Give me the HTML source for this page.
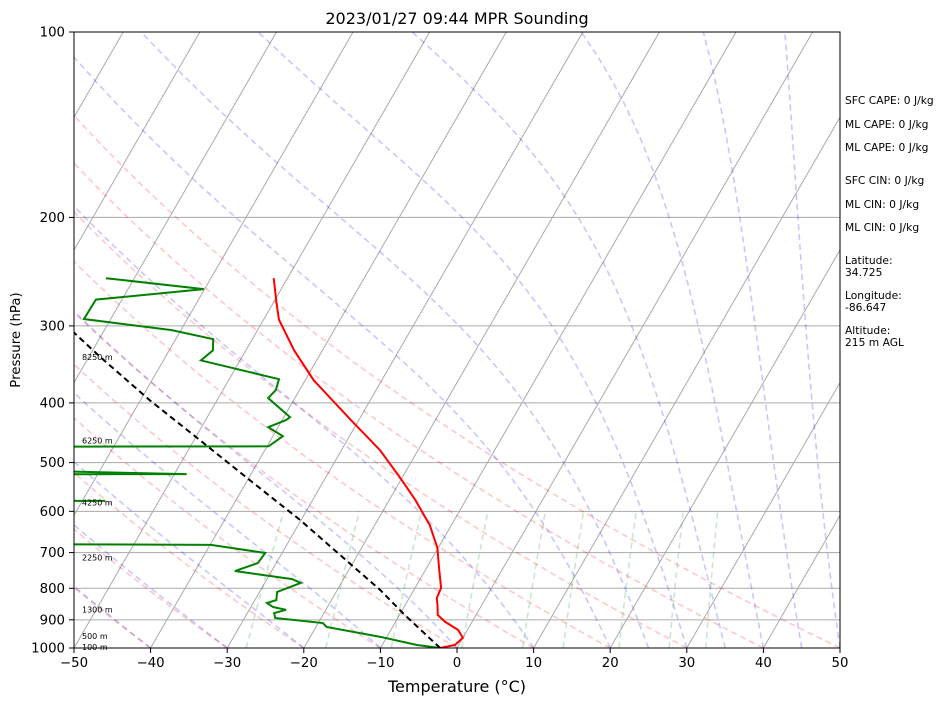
<!DOCTYPE html>
<html><head><meta charset="utf-8"><style>
body{margin:0;background:#fff;}
svg{display:block;font-family:"DejaVu Sans","Liberation Sans",sans-serif;}
</style></head><body>
<svg id="chart" width="946" height="705" viewBox="0 0 946 705" xmlns="http://www.w3.org/2000/svg">
<defs><clipPath id="plotclip"><rect x="74" y="32" width="766" height="616"/></clipPath></defs>
<text x="457" y="24" font-size="16" text-anchor="middle">2023/01/27 09:44 MPR Sounding</text>
<g id="bg" clip-path="url(#plotclip)"></g>
<g id="series" clip-path="url(#plotclip)"></g>
<rect x="74" y="32" width="766" height="616" fill="none" stroke="#000" stroke-width="1"/>
<g id="axes"></g>
<text x="457" y="692" font-size="16" text-anchor="middle">Temperature (°C)</text>
<text transform="translate(20,340) rotate(-90)" font-size="13.3" text-anchor="middle">Pressure (hPa)</text>
<g font-size="10.7">
<text x="845" y="104">SFC CAPE: 0 J/kg</text>
<text x="845" y="128">ML CAPE: 0 J/kg</text>
<text x="845" y="151">ML CAPE: 0 J/kg</text>
<text x="845" y="184">SFC CIN: 0 J/kg</text>
<text x="845" y="208">ML CIN: 0 J/kg</text>
<text x="845" y="231">ML CIN: 0 J/kg</text>
<text x="845" y="264">Latitude:</text>
<text x="845" y="276">34.725</text>
<text x="845" y="299">Longitude:</text>
<text x="845" y="311">-86.647</text>
<text x="845" y="334">Altitude:</text>
<text x="845" y="346">215 m AGL</text>
</g>
</svg>
<script>
// ---- data ----
const tempP = [1000,988.9,963,935,907,884,851,830,799,747,688,632,575,524,477,426,367.5,328.7,293,275,251];
const tempT = [-2.2,-0.5,0.0,-1.2,-3.5,-5.0,-5.8,-6.4,-6.6,-8.2,-10.1,-12.8,-16.6,-20.7,-25,-31.1,-38.9,-43.7,-48,-49.6,-51.8];
const dewP = [1000,988.9,959.7,924.5,911,894,877.5,867,858,845,836,811,784,773,750,728,701,680,675,578,577,576,523,522,506,472,470.5,453,438,426.6,421.9,392.8,381.3,366.1,341.3,328.7,315.3,304.8,292.4,271.9,261.5,251];
const dewT = [-2.2,-5.45,-10.75,-18.6,-19.4,-26.0,-26.5,-25.2,-27.1,-28.2,-27.2,-27.7,-25.3,-26.7,-34.8,-32.4,-32.2,-39.9,-110,-100,-57.0,-100,-100,-48.4,-100,-100,-39.8,-38.7,-41.3,-39.5,-39.2,-43.5,-43.1,-43.5,-55.1,-54.3,-55.1,-61.2,-73.5,-73.4,-60.1,-73.7];
const parcelP = [1000,884,805,706,620,534,460,396,337,308,290];
const parcelT = [-2.2,-9.3,-14.4,-22.3,-30.1,-39.7,-49.2,-58.8,-68.5,-73.7,-77];
const pressureTicks = [100,200,300,400,500,600,700,800,900,1000];
const tempTicks = [-50,-40,-30,-20,-10,0,10,20,30,40,50];
const dryT0 = [-40,-30,-20,-10,0,10,20,30,40,50];
const moistT0 = [-40,-30,-20,-10,0,10,20,25,30,35,40,45,50];
const mixRatios = [0.0004,0.001,0.002,0.004,0.007,0.01,0.016,0.024,0.032];
const altLabels = ["8250 m","6250 m","4250 m","2250 m","1300 m","500 m","100 m"];
const altP = [337,460,580,713,866,957,996];

// ---- axis functions ----
const X0=74, XW=766, YB=648, YH=616, SKEW=Math.tan(Math.PI/6);
function yOf(p){return YB - Math.log10(1000/p)*YH;}
function xOf(T,p){return X0 + (T+50)*XW/100 + (YB - yOf(p))*SKEW;}
const NS="http://www.w3.org/2000/svg";
function mk(tag,attrs,parent){const e=document.createElementNS(NS,tag);for(const k in attrs)e.setAttribute(k,attrs[k]);parent.appendChild(e);return e;}
function pathFrom(ps,ts){let d="";for(let i=0;i<ps.length;i++){d+=(i?"L":"M")+xOf(ts[i],ps[i]).toFixed(2)+","+yOf(ps[i]).toFixed(2);}return d;}
const bg=document.getElementById('bg'), series=document.getElementById('series'), axes=document.getElementById('axes');

for(const p of pressureTicks){
  const l=mk('line',{x1:74,x2:840,y1:yOf(p),y2:yOf(p),stroke:'#aaa','stroke-width':1},bg);
  
  
}
for(let T=-160;T<=50;T+=10){
  const l=mk('line',{x1:xOf(T,1000),y1:yOf(1000),x2:xOf(T,100),y2:yOf(100),stroke:'#aaa','stroke-width':1},bg);
  
  
}
const levels=[];for(let p=1000;p>=100;p-=10)levels.push(p);
for(const t0 of dryT0){
  const ts=levels.map(p=>(t0+273.15)*Math.pow(p/1000,0.2857)-273.15);
  const e=mk('path',{d:pathFrom(levels,ts),fill:'none',stroke:'rgba(255,0,0,0.22)','stroke-width':1.6,'stroke-dasharray':'6,4'},bg);
  
  
}
function es(Tk){const t=Tk-273.15;return 6.112*Math.exp(17.67*t/(t+243.5));}
function dTdp(p,T){const Rd=287.04,Cp=1005.7,Lv=2.501e6,eps=0.622;const e=es(T);const rs=eps*e/(p-e);
  return (1/p)*(Rd*T+Lv*rs)/(Cp+(Lv*Lv*rs*eps)/(Rd*T*T));}
for(const t0 of moistT0){
  let T=t0+273.15;const ts=[t0];
  for(let i=1;i<levels.length;i++){
    let p=levels[i-1];const tgt=levels[i];const n=4;const h=(tgt-p)/n;
    for(let k=0;k<n;k++){const k1=dTdp(p,T),k2=dTdp(p+h/2,T+h/2*k1),k3=dTdp(p+h/2,T+h/2*k2),k4=dTdp(p+h,T+h*k3);T+=h/6*(k1+2*k2+2*k3+k4);p+=h;}
    ts.push(T-273.15);
  }
  const e=mk('path',{d:pathFrom(levels,ts),fill:'none',stroke:'rgba(0,0,255,0.22)','stroke-width':1.6,'stroke-dasharray':'6,4'},bg);
  
  
}
const mlev=[1000,900,800,700,600];
for(const w of mixRatios){
  const ts=mlev.map(p=>{const e=p*w/(0.622+w);const l=Math.log(e/6.112);return 243.5*l/(17.67-l);});
  const e=mk('path',{d:pathFrom(mlev,ts),fill:'none',stroke:'rgba(0,128,0,0.2)','stroke-width':1.6,'stroke-dasharray':'6,4'},bg);
  
  
}
const tl=mk('path',{d:pathFrom(tempP,tempT),fill:'none',stroke:'#f00','stroke-width':2},series);


const dl=mk('path',{d:pathFrom(dewP,dewT),fill:'none',stroke:'#008000','stroke-width':2},series);


const pl=mk('path',{d:pathFrom(parcelP,parcelT),fill:'none',stroke:'#000','stroke-width':2,'stroke-dasharray':'6,4'},series);


for(let i=0;i<altLabels.length;i++){
  const t=mk('text',{x:82,y:yOf(altP[i])+3,'font-size':8},axes);
  t.textContent=altLabels[i];
  
  
}
for(const p of pressureTicks){
  const y=yOf(p);
  const l=mk('line',{x1:69,x2:74,y1:y,y2:y,stroke:'#000'},axes);
  
  
  const t=mk('text',{x:65,y:y+4.5,'font-size':13.3,'text-anchor':'end'},axes);
  t.textContent=p;
  
  
}
for(const T of tempTicks){
  const x=X0+(T+50)*XW/100;
  const l=mk('line',{x1:x,x2:x,y1:648,y2:653,stroke:'#000'},axes);
  
  
  const t=mk('text',{x:x,y:667,'font-size':13.3,'text-anchor':'middle'},axes);
  t.textContent=(T<0?'−'+Math.abs(T):T);
  
  
}
</script>
</body></html>
